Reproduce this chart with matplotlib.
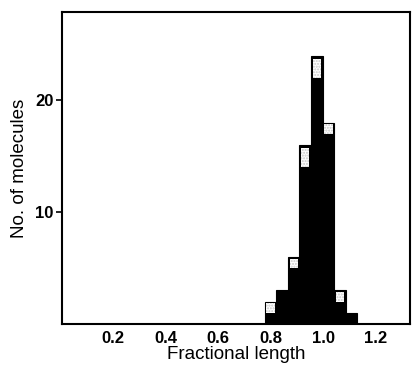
import matplotlib
matplotlib.use("Agg")
import matplotlib.pyplot as plt
from matplotlib.font_manager import FontProperties
import numpy as np

# histogram of fractional lengths, bins ~0.044 wide
bin_centers = [0.800, 0.844, 0.888, 0.932, 0.976, 1.020, 1.064, 1.108]
black_counts = [1, 3, 5, 14, 22, 17, 2, 1]
hatched_counts = [1, 0, 1, 2, 2, 1, 1, 0]
bin_width = 0.044

xticks = [0.2, 0.4, 0.6, 0.8, 1.0, 1.2]
yticks = [10, 20]

totals = np.array(black_counts) + np.array(hatched_counts)

fig = plt.figure(figsize=(4.13, 3.66), dpi=100)
ax = fig.add_axes([0.150, 0.115, 0.843, 0.852])

# solid bars up to the full count, then open boxes cut into the top
ax.bar(bin_centers, totals, width=bin_width, color="black",
       edgecolor="black", linewidth=0.8)
ax.bar(bin_centers, np.array(hatched_counts) * 0.85, width=bin_width * 0.72,
       bottom=black_counts, color="white", linewidth=0)
ax.bar(bin_centers, np.array(hatched_counts) * 0.85, width=bin_width * 0.72,
       bottom=black_counts, color="none", edgecolor="#c8c8c8", linewidth=0,
       hatch="......")

ax.set_xlim(0.006, 1.331)
ax.set_ylim(0, 27.9)

ax.set_xticks(xticks)
ax.set_xticklabels(["%.1f" % t for t in xticks])
ax.set_yticks(yticks)

tick_font = FontProperties(family=["Liberation Sans", "DejaVu Sans"], weight="bold", size=12)
for lab in ax.get_xticklabels() + ax.get_yticklabels():
    lab.set_fontproperties(tick_font)

ax.tick_params(axis="x", length=0, pad=5)
ax.tick_params(axis="y", length=4, width=1.2, direction="out", pad=2)

for s in ax.spines.values():
    s.set_linewidth(1.5)

ax.set_xlabel("Fractional length", fontsize=13.5, family=["Liberation Sans", "DejaVu Sans"], labelpad=0)
ax.set_ylabel("No. of molecules", fontsize=13.5, family=["Liberation Sans", "DejaVu Sans"], labelpad=5)

fig.savefig("out.png", dpi=100)
